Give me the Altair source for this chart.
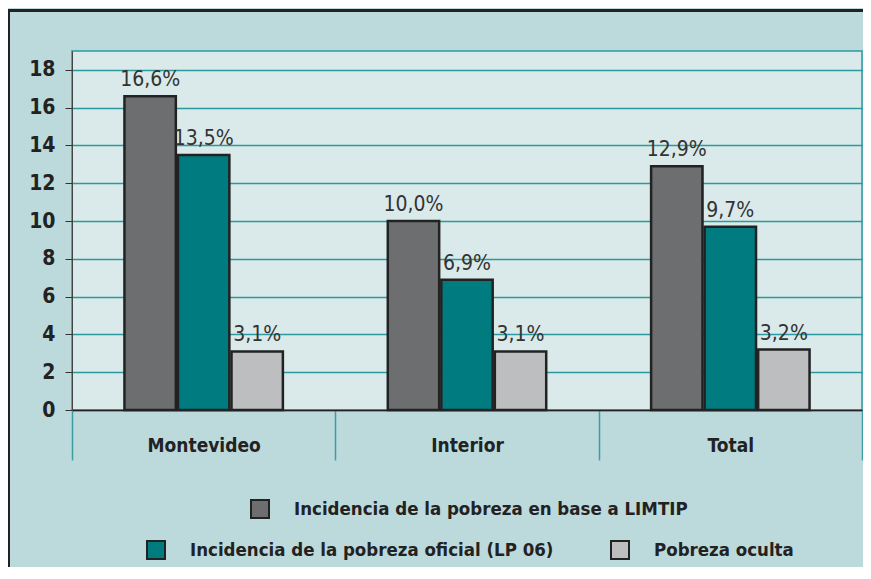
import altair as alt
import pandas as pd

categories = ["Montevideo", "Interior", "Total"]
series = [
    "Incidencia de la pobreza en base a LIMTIP",
    "Incidencia de la pobreza oficial (LP 06)",
    "Pobreza oculta",
]
values_limtip = [16.6, 10.0, 12.9]
values_oficial = [13.5, 6.9, 9.7]
values_oculta = [3.1, 3.1, 3.2]
colors = ["#6d6e70", "#007b80", "#bcbec0"]
y_ticks = [0, 2, 4, 6, 8, 10, 12, 14, 16, 18]

rows = []
for s, vals in zip(series, [values_limtip, values_oficial, values_oculta]):
    for c, v in zip(categories, vals):
        rows.append({"region": c, "serie": s, "valor": v})
df = pd.DataFrame(rows)

FONT = "DejaVu Sans Condensed, Liberation Sans Narrow, sans-serif"
W, H = 790, 359
PB = 157
PR = 1

x_enc = alt.X(
    "region:N",
    sort=categories,
    scale=alt.Scale(paddingInner=0, paddingOuter=0),
    axis=alt.Axis(
        title=None, labelAngle=0, tickBand="extent", tickSize=50,
        tickColor="#3aa0a6", tickWidth=1.5, domainColor="#222222", domainWidth=1.5,
        labelPadding=-24, labelFont=FONT, labelFontSize=19, labelFontWeight="bold",
        labelColor="#222222",
    ),
)
xo_enc = alt.XOffset(
    "serie:N", sort=series,
    scale=alt.Scale(domain=series, paddingInner=0.04, paddingOuter=0.98),
)
y_enc = alt.Y(
    "valor:Q",
    scale=alt.Scale(domain=[0, 19], nice=False),
    axis=alt.Axis(
        title=None, values=y_ticks, format="d", grid=True, gridColor="#2a9aa0",
        gridWidth=1.5, tickSize=7, tickColor="#333333", domainColor="#444444",
        labelPadding=10, labelFont=FONT, labelFontSize=21, labelFontWeight="bold",
        labelColor="#222222",
    ),
)

legend_common = dict(
    title=None, orient="none", direction="horizontal", symbolType="square",
    symbolSize=324, symbolStrokeWidth=2, symbolStrokeColor="#222222",
    labelFont=FONT, labelFontSize=18.5, labelFontWeight="bold", labelColor="#222222",
    labelOffset=24, columnPadding=53, labelLimit=0,
)

base = alt.Chart(df)

bars1 = base.transform_filter(alt.datum.serie == series[0]).mark_bar(
    stroke="#222222", strokeWidth=2.5
).encode(
    x=x_enc, xOffset=xo_enc, y=y_enc,
    fill=alt.Fill("serie:N", scale=alt.Scale(domain=series[:1], range=colors[:1]),
                  legend=alt.Legend(legendX=178, legendY=448, **legend_common)),
)
bars2 = base.transform_filter(alt.datum.serie != series[0]).mark_bar(
    stroke="#222222", strokeWidth=2.5
).encode(
    x=x_enc, xOffset=xo_enc, y=y_enc,
    fill=alt.Fill("serie:N", scale=alt.Scale(domain=series[1:], range=colors[1:]),
                  legend=alt.Legend(legendX=74, legendY=489, **legend_common)),
)
labels = base.transform_calculate(
    etiqueta="replace(format(datum.valor, '.1f'), '.', ',') + '%'"
).mark_text(
    baseline="bottom", dy=-6, font=FONT, fontSize=21, color="#333333"
).encode(x=x_enc, xOffset=xo_enc, y=y_enc, text="etiqueta:N")

frame = pd.DataFrame({"k": [0]})
top_border = alt.Chart(frame).mark_rule(color="#222222", strokeWidth=3).encode(
    x=alt.value(-64), x2=alt.value(W + PR), y=alt.value(-40.5)
)
left_border = alt.Chart(frame).mark_rule(color="#222222", strokeWidth=2).encode(
    x=alt.value(-63), y=alt.value(-42), y2=alt.value(H + PB)
)

chart = alt.layer(bars1, bars2, labels, top_border, left_border).resolve_scale(
    fill="independent"
).properties(
    width=W, height=H,
    autosize=alt.AutoSizeParams(type="none"),
    padding={"left": 64, "top": 43, "right": PR, "bottom": PB},
    background="#bcd9dc",
).configure_view(
    fill="#daeaea", stroke="#2a9aa0", strokeWidth=1.5
)

chart.save("out.html", embed_options={"renderer": "svg", "actions": False})
